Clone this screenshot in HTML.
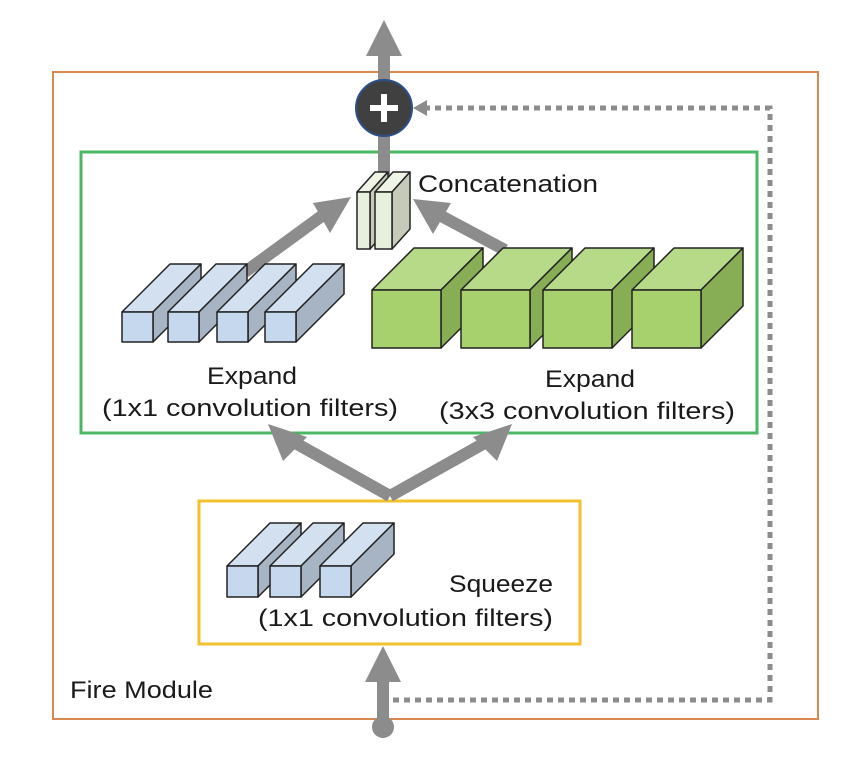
<!DOCTYPE html>
<html><head><style>html,body{margin:0;padding:0;background:#fff}svg{display:block}</style></head>
<body>
<svg width="864" height="762" viewBox="0 0 864 762" xmlns="http://www.w3.org/2000/svg" font-family="Liberation Sans, sans-serif">
<rect x="0" y="0" width="864" height="762" fill="#fff"/>
<rect x="53" y="72" width="765" height="647" fill="none" stroke="#d9894f" stroke-width="2"/>
<rect x="81" y="152" width="676" height="281" fill="none" stroke="#4cb866" stroke-width="3"/>
<rect x="199" y="501" width="381" height="143" fill="none" stroke="#f2c12e" stroke-width="3"/>

<g fill="#8c8c8c" stroke="none">
  <rect x="378" y="50" width="12" height="70"/>
  <polygon points="366,56 384,20 402,56"/>
  <rect x="377" y="680" width="12" height="45"/>
  <polygon points="365,682 383,646 401,682"/>
  <circle cx="383" cy="727" r="11"/>
  <rect x="378" y="130" width="12" height="45"/>
</g>
<g stroke="#8c8c8c" stroke-width="12" fill="none">
  <line x1="390" y1="496" x2="290" y2="440"/>
  <line x1="390" y1="496" x2="490" y2="440"/>
  <line x1="245" y1="272" x2="330" y2="210"/>
  <line x1="505" y1="250" x2="430" y2="210"/>
</g>
<g fill="#8c8c8c">
  <polygon points="268,424 307,437 283,461"/>
  <polygon points="512,424 497,461 473,437"/>
  <polygon points="351,197 330,233 313,203"/>
  <polygon points="413,199 451,203 433,234"/>
</g>
<g stroke="#8c8c8c" stroke-width="5" stroke-dasharray="6,5" fill="none">
  <polyline points="393,700 770,700 770,108 420,108"/>
</g>
<polygon points="413,108 427,100 427,116" fill="#8c8c8c"/>
<circle cx="384" cy="108" r="28" fill="#404040" stroke="#2e4f8a" stroke-width="2"/>
<rect x="370" y="105" width="28" height="6" fill="#fff"/>
<rect x="381" y="94" width="6" height="28" fill="#fff"/>

<g stroke="#222" stroke-width="1.5" stroke-linejoin="round">
  <polygon points="357,192 375,172 388,172 370,192" fill="#eef5e6"/>
  <polygon points="370,192 388,172 388,229 370,249" fill="#c5cbb8"/>
  <rect x="357" y="192" width="13" height="57" fill="#e6f0dc"/>
  <polygon points="375,192 393,172 410,172 392,192" fill="#eef5e6"/>
  <polygon points="392,192 410,172 410,229 392,249" fill="#c5cbb8"/>
  <rect x="375" y="192" width="17" height="57" fill="#e6f0dc"/>
</g>

<g stroke="#222" stroke-width="1.5" stroke-linejoin="round">
  <polygon points="122,312 170,264 201,264 153,312" fill="#d3e0f0"/>
  <polygon points="153,312 201,264 201,294 153,342" fill="#a6b4c4"/>
  <rect x="122" y="312" width="31" height="30" fill="#c5d8ee"/>
  <polygon points="168,312 216,264 247,264 199,312" fill="#d3e0f0"/>
  <polygon points="199,312 247,264 247,294 199,342" fill="#a6b4c4"/>
  <rect x="168" y="312" width="31" height="30" fill="#c5d8ee"/>
  <polygon points="217,312 265,264 296,264 248,312" fill="#d3e0f0"/>
  <polygon points="248,312 296,264 296,294 248,342" fill="#a6b4c4"/>
  <rect x="217" y="312" width="31" height="30" fill="#c5d8ee"/>
  <polygon points="265,312 313,264 344,264 296,312" fill="#d3e0f0"/>
  <polygon points="296,312 344,264 344,294 296,342" fill="#a6b4c4"/>
  <rect x="265" y="312" width="31" height="30" fill="#c5d8ee"/>
</g>

<g stroke="#222" stroke-width="1.5" stroke-linejoin="round">
  <polygon points="372,290 414,248 483,248 441,290" fill="#b7da88"/>
  <polygon points="441,290 483,248 483,306 441,348" fill="#88ae55"/>
  <rect x="372" y="290" width="69" height="58" fill="#a7d16c"/>
  <polygon points="461,290 503,248 572,248 530,290" fill="#b7da88"/>
  <polygon points="530,290 572,248 572,306 530,348" fill="#88ae55"/>
  <rect x="461" y="290" width="69" height="58" fill="#a7d16c"/>
  <polygon points="543,290 585,248 654,248 612,290" fill="#b7da88"/>
  <polygon points="612,290 654,248 654,306 612,348" fill="#88ae55"/>
  <rect x="543" y="290" width="69" height="58" fill="#a7d16c"/>
  <polygon points="632,290 674,248 743,248 701,290" fill="#b7da88"/>
  <polygon points="701,290 743,248 743,306 701,348" fill="#88ae55"/>
  <rect x="632" y="290" width="69" height="58" fill="#a7d16c"/>
</g>

<g stroke="#222" stroke-width="1.5" stroke-linejoin="round">
  <polygon points="227,566 270,523 301,523 258,566" fill="#d3e0f0"/>
  <polygon points="258,566 301,523 301,554 258,597" fill="#a6b4c4"/>
  <rect x="227" y="566" width="31" height="31" fill="#c5d8ee"/>
  <polygon points="270,566 313,523 344,523 301,566" fill="#d3e0f0"/>
  <polygon points="301,566 344,523 344,554 301,597" fill="#a6b4c4"/>
  <rect x="270" y="566" width="31" height="31" fill="#c5d8ee"/>
  <polygon points="320,566 363,523 394,523 351,566" fill="#d3e0f0"/>
  <polygon points="351,566 394,523 394,554 351,597" fill="#a6b4c4"/>
  <rect x="320" y="566" width="31" height="31" fill="#c5d8ee"/>
</g>

<g fill="#1a1a1a" font-size="24">
  <text x="418" y="192" textLength="180" lengthAdjust="spacingAndGlyphs">Concatenation</text>
  <text x="207" y="384" textLength="90" lengthAdjust="spacingAndGlyphs">Expand</text>
  <text x="102" y="416" textLength="296" lengthAdjust="spacingAndGlyphs">(1x1 convolution filters)</text>
  <text x="545" y="387" textLength="90" lengthAdjust="spacingAndGlyphs">Expand</text>
  <text x="439" y="419" textLength="296" lengthAdjust="spacingAndGlyphs">(3x3 convolution filters)</text>
  <text x="449" y="592" textLength="104" lengthAdjust="spacingAndGlyphs">Squeeze</text>
  <text x="258" y="626" textLength="295" lengthAdjust="spacingAndGlyphs">(1x1 convolution filters)</text>
  <text x="70" y="698" textLength="143" lengthAdjust="spacingAndGlyphs">Fire Module</text>
</g>
</svg>
</body></html>
